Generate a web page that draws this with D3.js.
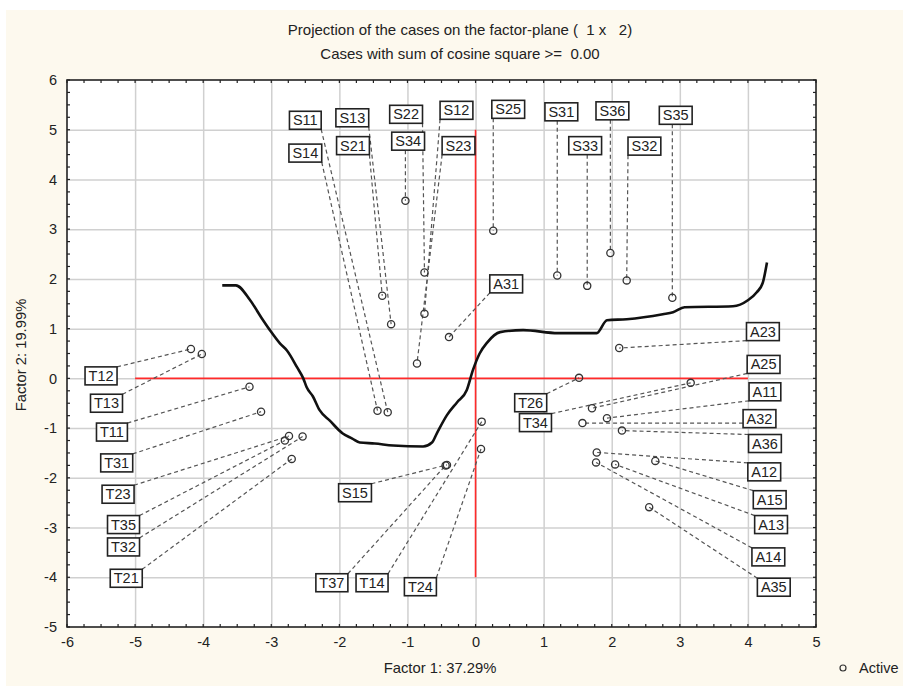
<!DOCTYPE html>
<html><head><meta charset="utf-8">
<script src="https://cdn.jsdelivr.net/npm/d3@7"></script>
<style>
html,body{margin:0;padding:0;background:#fff;}
text{font-family:"Liberation Sans",Arial,sans-serif;fill:#222;}
</style></head>
<body><svg id="chart" width="903" height="686"></svg>
<script>
// ---------- DATA ----------
const cases = ["S11","S14","S13","S21","S22","S12","S23","S34","S25","S31","S33","S36","S32","S35",
  "A31","A23","A25","A11","A32","A36","A12","A15","A13","A14","A35",
  "T26","T34","T12","T13","T11","T31","T23","T35","T32","T21","S15","T37","T14","T24"];
const factor1 = [-1.29,-1.44,-1.24,-1.37,-0.75,-0.75,-0.86,-1.03,0.26,1.20,1.64,1.98,2.22,2.89,
  -0.39,2.11,1.71,1.93,1.57,2.15,1.78,2.64,2.05,1.77,2.55,
  1.52,3.16,-4.18,-4.02,-3.32,-3.15,-2.74,-2.80,-2.54,-2.70,-0.42,-0.44,0.09,0.08];
const factor2 = [-0.68,-0.65,1.09,1.66,2.13,1.30,0.30,3.57,2.97,2.07,1.86,2.52,1.97,1.62,
  0.83,0.61,-0.60,-0.80,-0.90,-1.05,-1.49,-1.66,-1.73,-1.69,-2.59,
  0.01,-0.09,0.59,0.49,-0.17,-0.67,-1.16,-1.25,-1.17,-1.62,-1.74,-1.75,-0.87,-1.42];
const labelX = [-2.50,-2.50,-1.81,-1.80,-1.02,-0.28,-0.25,-0.99,0.48,1.26,1.61,2.01,2.48,2.94,
  0.45,4.22,4.23,4.25,4.17,4.25,4.24,4.32,4.34,4.30,4.38,
  0.81,0.88,-5.50,-5.42,-5.34,-5.27,-5.25,-5.17,-5.17,-5.13,-1.77,-2.11,-1.52,-0.81];
const labelY = [5.19,4.53,5.24,4.68,5.31,5.39,4.68,4.77,5.41,5.36,4.68,5.38,4.67,5.29,
  1.90,0.94,0.28,-0.27,-0.81,-1.31,-1.88,-2.44,-2.94,-3.59,-4.20,
  -0.49,-0.89,0.05,-0.50,-1.08,-1.70,-2.33,-2.94,-3.39,-4.02,-2.30,-4.11,-4.11,-4.19];
// boundary curve
const curveX = [-3.72,-3.52,-3.31,-3.14,-3.02,-2.87,-2.77,-2.62,-2.53,-2.48,-2.39,-2.29,-2.14,-1.95,-1.81,-1.70,
  -1.48,-1.21,-0.77,-0.64,-0.57,-0.42,-0.27,-0.13,-0.04,0.06,0.17,0.36,0.70,1.21,1.78,1.93,2.22,2.75,2.90,3.07,
  3.78,4.00,4.13,4.22,4.28];
const curveY = [1.87,1.87,1.57,1.21,0.97,0.70,0.56,0.22,0.00,-0.18,-0.36,-0.64,-0.85,-1.11,-1.21,-1.29,
  -1.31,-1.35,-1.37,-1.29,-1.11,-0.74,-0.48,-0.24,0.16,0.50,0.72,0.93,0.97,0.91,0.91,1.17,1.19,1.29,1.33,1.43,
  1.45,1.57,1.73,1.93,2.33];
const xTicks = [-6,-5,-4,-3,-2,-1,0,1,2,3,4,5];
const yTicks = [-5,-4,-3,-2,-1,0,1,2,3,4,5,6];
const refH = {y:0, x1:-5, x2:4};
const refV = {x:0, y1:-4, y2:5};
const title1 = "Projection of the cases on the factor-plane (  1 x   2)";
const title2 = "Cases with sum of cosine square >=  0.00";
const xTitle = "Factor 1: 37.29%";
const yTitle = "Factor 2: 19.99%";
const legendLabel = "Active";

// ---------- CHART ----------
const svg = d3.select("#chart");
const L = 67, R = 816, T = 80, B = 627;
const x = d3.scaleLinear().domain([-6,5]).range([L,R]);
const y = d3.scaleLinear().domain([-5,6]).range([B,T]);

svg.append("rect").attr("x",6).attr("y",10).attr("width",897).attr("height",676).attr("fill","#fdf9ee");
svg.append("rect").attr("x",L).attr("y",T).attr("width",R-L).attr("height",B-T).attr("fill","#ffffff");

// grid (via d3 axes with full-length ticks)
const gridX = svg.append("g").attr("transform",`translate(0,${B})`)
  .call(d3.axisBottom(x).tickValues(xTicks.slice(1,-1)).tickSize(-(B-T)).tickFormat(""));
gridX.select(".domain").remove();
gridX.selectAll("line").attr("stroke","#d0d0d0").attr("stroke-width",1.5);
const gridY = svg.append("g").attr("transform",`translate(${L},0)`)
  .call(d3.axisLeft(y).tickValues(yTicks.slice(1,-1)).tickSize(-(R-L)).tickFormat(""));
gridY.select(".domain").remove();
gridY.selectAll("line").attr("stroke","#d0d0d0").attr("stroke-width",1.5);

// reference lines
svg.append("line").attr("x1",x(refH.x1)).attr("x2",x(refH.x2)).attr("y1",y(refH.y)).attr("y2",y(refH.y))
  .attr("stroke","#ff2a2a").attr("stroke-width",1.6);
svg.append("line").attr("x1",x(refV.x)).attr("x2",x(refV.x)).attr("y1",y(refV.y1)).attr("y2",y(refV.y2))
  .attr("stroke","#ff2a2a").attr("stroke-width",1.6);

// curve
const pts = curveX.map((v,i)=>[v,curveY[i]]);
svg.append("path").datum(pts)
  .attr("d", d3.line().x(d=>x(d[0])).y(d=>y(d[1])).curve(d3.curveMonotoneX))
  .attr("fill","none").attr("stroke","#111").attr("stroke-width",2.6).attr("stroke-linejoin","round");

// labels
const data = cases.map((c,i)=>({name:c, px:x(factor1[i]), py:y(factor2[i]), lx:x(labelX[i]), ly:y(labelY[i])}));
const connG = svg.append("g");
const boxG = svg.append("g");
data.forEach(d=>{
  const gg = boxG.append("g");
  const rect = gg.append("rect");
  const t = gg.append("text").attr("x",d.lx).attr("y",d.ly).attr("text-anchor","middle")
     .attr("dominant-baseline","central").attr("font-size",14.5).text(d.name);
  const bb = t.node().getBBox();
  const w = bb.width + 7, h = 18;
  d.x0 = d.lx - w/2; d.x1 = d.lx + w/2; d.y0 = d.ly - h/2; d.y1 = d.ly + h/2;
  rect.attr("x",d.x0).attr("y",d.y0).attr("width",w).attr("height",h)
    .attr("fill","#fff").attr("stroke","#222").attr("stroke-width",1.6);
  const sx = Math.max(d.x0, Math.min(d.x1, d.px));
  const sy = Math.max(d.y0, Math.min(d.y1, d.py));
  connG.append("line").attr("x1",sx).attr("y1",sy).attr("x2",d.px).attr("y2",d.py)
    .attr("stroke","#555").attr("stroke-width",1.2).attr("stroke-dasharray","4,3");
});

// points
svg.append("g").selectAll("circle").data(data).join("circle")
  .attr("cx",d=>d.px).attr("cy",d=>d.py).attr("r",3.6)
  .attr("fill","none").attr("stroke","#333").attr("stroke-width",1.3);

// frame
svg.append("rect").attr("x",L).attr("y",T).attr("width",R-L).attr("height",B-T)
  .attr("fill","none").attr("stroke","#222").attr("stroke-width",1.6);

// minor ticks every 0.25 inward
const tk = svg.append("g").attr("stroke","#222").attr("stroke-width",1.2);
const mx = d3.range(-6,5.001,0.25), my = d3.range(-5,6.001,0.25);
mx.forEach(v=>{
  tk.append("line").attr("x1",x(v)).attr("x2",x(v)).attr("y1",T).attr("y2",T+3);
  tk.append("line").attr("x1",x(v)).attr("x2",x(v)).attr("y1",B).attr("y2",B-3);
});
my.forEach(v=>{
  tk.append("line").attr("y1",y(v)).attr("y2",y(v)).attr("x1",L).attr("x2",L+3);
  tk.append("line").attr("y1",y(v)).attr("y2",y(v)).attr("x1",R).attr("x2",R-3);
});

// axes labels via d3 axis
const fmt = d => String(d);
const ax = svg.append("g").attr("transform",`translate(0,${B})`)
  .call(d3.axisBottom(x).tickValues(xTicks).tickSize(0).tickPadding(10).tickFormat(fmt));
ax.select(".domain").remove();
ax.selectAll("text").attr("font-size",14.5).attr("fill","#222").attr("font-family","Liberation Sans, Arial, sans-serif");
const ay = svg.append("g").attr("transform",`translate(${L},0)`)
  .call(d3.axisLeft(y).tickValues(yTicks).tickSize(0).tickPadding(10).tickFormat(fmt));
ay.select(".domain").remove();
ay.selectAll("text").attr("font-size",14.5).attr("fill","#222").attr("font-family","Liberation Sans, Arial, sans-serif");

// titles
svg.append("text").attr("x",460).attr("y",35).attr("text-anchor","middle").attr("font-size",15)
  .style("white-space","pre").text(title1);
svg.append("text").attr("x",460).attr("y",59).attr("text-anchor","middle").attr("font-size",15)
  .style("white-space","pre").text(title2);
svg.append("text").attr("x",440).attr("y",673).attr("text-anchor","middle").attr("font-size",14.8).text(xTitle);
svg.append("text").attr("transform","translate(26,355) rotate(-90)").attr("text-anchor","middle")
  .attr("font-size",14.8).text(yTitle);

// legend
svg.append("circle").attr("cx",843).attr("cy",668).attr("r",3).attr("fill","none").attr("stroke","#333").attr("stroke-width",1.2);
svg.append("text").attr("x",859).attr("y",673).attr("font-size",14.5).text(legendLabel);
</script></body></html>
